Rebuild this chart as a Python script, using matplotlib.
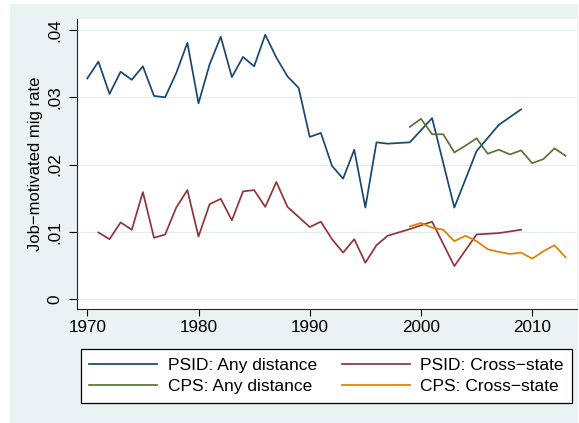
import matplotlib
matplotlib.use("Agg")
import matplotlib.pyplot as plt
from matplotlib.patches import Rectangle

plt.rcParams['font.family'] = ['Liberation Sans', 'DejaVu Sans']

# ---- data ----
psid_years = list(range(1970, 1998)) + [1999, 2001, 2003, 2005, 2007, 2009]
psid_any = [0.0328, 0.0353, 0.0305, 0.0338, 0.0326, 0.0346, 0.0302, 0.0300,
            0.0336, 0.0381, 0.0291, 0.0349, 0.0390, 0.0330, 0.0360, 0.0346,
            0.0393, 0.0359, 0.0331, 0.0314, 0.0241, 0.0247, 0.0198, 0.0179,
            0.0222, 0.0136, 0.0233, 0.0231,
            0.0233, 0.0269, 0.0136, 0.0220, 0.0259, 0.0282]
psid_cross_years = list(range(1971, 1998)) + [1999, 2001, 2003, 2005, 2007, 2009]
psid_cross = [0.0099, 0.0089, 0.0114, 0.0103, 0.0159, 0.0091, 0.0096, 0.0136,
              0.0162, 0.0093, 0.0141, 0.0149, 0.0117, 0.0160, 0.0162, 0.0137,
              0.0174, 0.0137, 0.0122, 0.0107, 0.0115, 0.0089, 0.0069, 0.0089,
              0.0054, 0.0080, 0.0094,
              0.0104, 0.0115, 0.0049, 0.0096, 0.0098, 0.0103]
cps_years = list(range(1999, 2014))
cps_any = [0.0256, 0.0268, 0.0245, 0.0245, 0.0218, 0.0228, 0.0239, 0.0216,
           0.0222, 0.0215, 0.0221, 0.0202, 0.0208, 0.0224, 0.0213]
cps_cross = [0.0108, 0.0113, 0.0106, 0.0103, 0.0086, 0.0094, 0.0086, 0.0074,
             0.0070, 0.0067, 0.0069, 0.0060, 0.0071, 0.0080, 0.0062]

x_ticks = [1970, 1980, 1990, 2000, 2010]
y_ticks = [0, 0.01, 0.02, 0.03, 0.04]
y_ticklabels = ["0", ".01", ".02", ".03", ".04"]
labels = ["PSID: Any distance", "PSID: Cross\u2212state",
          "CPS: Any distance", "CPS: Cross\u2212state"]
ylabel = "Job\u2212motivated mig rate"

# ---- figure ----
W, H = 579, 423
fig = plt.figure(figsize=(W / 100, H / 100), dpi=100)
fig.patch.set_facecolor("white")
bg = "#eaf2f3"
fig.patches.append(Rectangle((10 / W, 0), (578 - 10) / W, (H - 4) / H,
                             transform=fig.transFigure, facecolor=bg,
                             edgecolor="none", zorder=-10))

ax = fig.add_axes([76.7 / W, 1 - 309.3 / H, (576.7 - 76.7) / W, (309.3 - 19) / H])
ax.set_facecolor("white")

navy = "#1a476f"
maroon = "#90353b"
green = "#55752f"
orange = "#e37e00"
lw = 1.25

l1, = ax.plot(psid_years, psid_any, color=navy, lw=lw)
l2, = ax.plot(psid_cross_years, psid_cross, color=maroon, lw=lw)
l3, = ax.plot(cps_years, cps_any, color=green, lw=lw)
l4, = ax.plot(cps_years, cps_cross, color=orange, lw=lw)

ax.set_xlim(1969.05, 2014.0)
ax.set_ylim(-0.00153, 0.04164)

ax.set_xticks(x_ticks)
ax.set_xticklabels([str(t) for t in x_ticks])
ax.set_yticks(y_ticks)
ax.set_yticklabels(y_ticklabels, rotation=90, va="center")

ax.grid(axis="y", color="#e4eef0", lw=1.0)
ax.set_axisbelow(True)

for s in ["top", "right"]:
    ax.spines[s].set_visible(False)
for s in ["left", "bottom"]:
    ax.spines[s].set_color("#222222")
    ax.spines[s].set_linewidth(0.8)

ax.tick_params(axis="x", length=5, width=0.8, pad=3, labelsize=12.3, colors="black")
ax.tick_params(axis="y", length=6, width=0.8, pad=4.5, labelsize=12.3, colors="black")

ax.set_ylabel(ylabel, fontsize=12, labelpad=3)

leg = fig.legend([l1, l3, l2, l4],
                 [labels[0], labels[2], labels[1], labels[3]],
                 ncol=2, loc="upper center",
                 bbox_to_anchor=(326.5 / W, 1 - 349.3 / H),
                 fontsize=12.5, frameon=True, fancybox=False, framealpha=1,
                 edgecolor="black", handlelength=3.9, handletextpad=0.6,
                 columnspacing=1.45, labelspacing=0.32, borderpad=0.5,
                 borderaxespad=0)
leg.get_frame().set_linewidth(0.9)

fig.savefig("out.png", dpi=100, facecolor=fig.get_facecolor())
